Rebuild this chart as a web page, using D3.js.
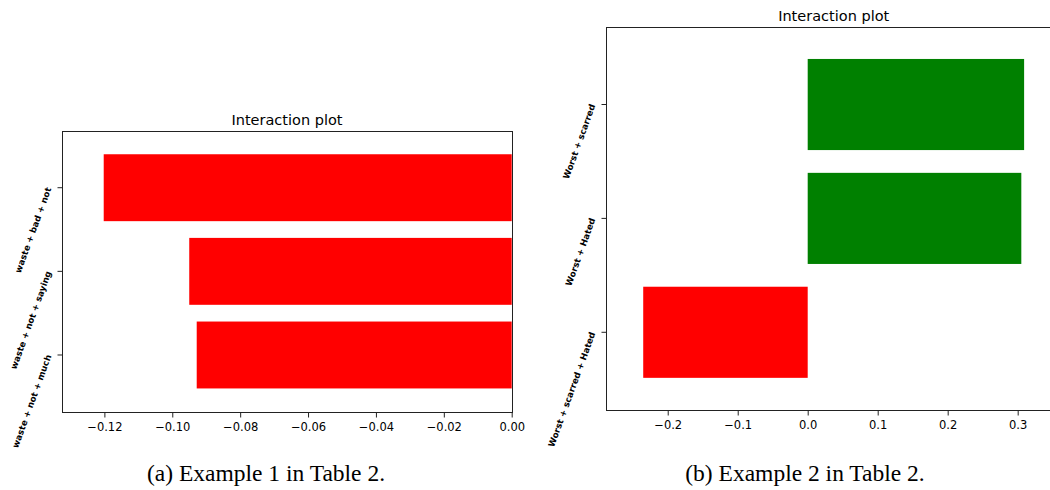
<!DOCTYPE html>
<html>
  <head>
    <meta charset="utf-8">
    <title>Interaction plots</title>
    <style media="screen">
      body {
        margin: 0;
        background: white;
      }

      .tickText {
        font-family: "DejaVu Sans", sans-serif;
        font-size: 11.5px;
        fill: black;
      }

      .catText {
        font-family: "DejaVu Sans", sans-serif;
        font-size: 8.7px;
        font-weight: bold;
        fill: black;
      }

      .title {
        font-family: "DejaVu Sans", sans-serif;
        font-size: 14.5px;
        text-anchor: middle;
        fill: black;
      }

      .caption {
        font-family: "Liberation Serif", "Times New Roman", serif;
        font-size: 23.5px;
        text-anchor: middle;
        fill: black;
      }
    </style>
  </head>
  <body>
    <div class="container"></div>
    <script src="https://cdn.jsdelivr.net/npm/d3@7/dist/d3.min.js" charset="utf-8"></script>
    <script type="text/javascript">
    // 数据：左图 (a)
    var catsA = ["waste + not + much", "waste + not + saying", "waste + bad + not"];
    var valsA = [-0.0928, -0.0950, -0.1202];
    var ticksA = [-0.12, -0.10, -0.08, -0.06, -0.04, -0.02, 0.00];

    // 数据：右图 (b)
    var catsB = ["Worst + scarred + Hated", "Worst + Hated", "Worst + scarred"];
    var valsB = [-0.235, 0.3052, 0.3092];
    var ticksB = [-0.2, -0.1, 0.0, 0.1, 0.2, 0.3];

    var title = "Interaction plot";
    var captionA = "(a) Example 1 in Table 2.";
    var captionB = "(b) Example 2 in Table 2.";

    var width = 1050;
    var height = 490;

    var svg = d3.select(".container")
        .append("svg")
        .attr("width", width)
        .attr("height", height);

    function drawPanel(box, cats, vals, ticks, fmt, xDomain, caption, capX) {
      var x = d3.scaleLinear()
          .domain(xDomain)
          .range([box.left, box.right]);

      // 从上到下：最后一个类别在最上面
      var y = d3.scaleBand()
          .domain(cats.slice().reverse())
          .range([box.top, box.bottom])
          .paddingInner(0.2)
          .paddingOuter(0.278);

      var g = svg.append("g");

      g.selectAll(".bar")
          .data(vals)
          .enter()
          .append("rect")
          .attr("class", "bar")
          .attr("x", function(d) { return Math.min(x(d), x(0)); })
          .attr("y", function(d, i) { return y(cats[i]); })
          .attr("width", function(d) { return Math.abs(x(d) - x(0)); })
          .attr("height", y.bandwidth())
          .attr("fill", function(d) { return d < 0 ? "#ff0000" : "#008000"; });

      // 边框
      g.append("rect")
          .attr("x", Math.round(box.left) + 0.5)
          .attr("y", Math.round(box.top) + 0.5)
          .attr("width", Math.round(box.right) - Math.round(box.left))
          .attr("height", Math.round(box.bottom) - Math.round(box.top))
          .attr("fill", "none")
          .attr("stroke", "#222")
          .attr("stroke-width", 1);

      var xAxis = g.append("g")
          .attr("transform", "translate(0," + (Math.round(box.bottom) + 0.5) + ")")
          .call(d3.axisBottom(x).tickValues(ticks).tickFormat(d3.format(fmt))
            .tickSize(5).tickSizeOuter(0).tickPadding(5.5));
      xAxis.select(".domain").remove();
      xAxis.selectAll("line").attr("stroke", "#222");
      xAxis.selectAll("text").attr("class", "tickText").attr("font-size", null).attr("font-family", null);

      var yAxis = g.append("g")
          .attr("transform", "translate(" + (Math.round(box.left) + 0.5) + ",0)")
          .call(d3.axisLeft(y).tickSize(5).tickSizeOuter(0));
      yAxis.select(".domain").remove();
      yAxis.selectAll("line").attr("stroke", "#222");
      yAxis.selectAll("text")
          .attr("class", "catText")
          .attr("font-size", null)
          .attr("font-family", null)
          .attr("x", null)
          .attr("dy", null)
          .attr("text-anchor", "end")
          .attr("transform", "translate(-11,1) rotate(-70)");

      g.append("text")
          .attr("class", "title")
          .attr("x", (box.left + box.right) / 2)
          .attr("y", box.top - 6)
          .text(title);

      svg.append("text")
          .attr("class", "caption")
          .attr("x", capX)
          .attr("y", 481)
          .text(caption);
    }

    drawPanel({ left: 62.3, right: 511.7, top: 131, bottom: 411.7 },
        catsA, valsA, ticksA, ".2f", [-0.1324, 0], captionA, 266);

    drawPanel({ left: 605.7, right: 1061.7, top: 27.3, bottom: 409.5 },
        catsB, valsB, ticksB, ".1f", [-0.2886, 0.3629], captionB, 805);
    </script>
  </body>
</html>
